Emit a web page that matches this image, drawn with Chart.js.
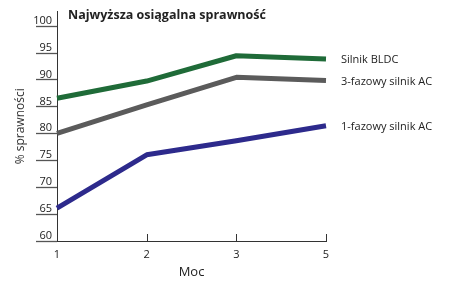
<!DOCTYPE html>
<html>
<head>
<script src="https://cdn.jsdelivr.net/npm/chart.js@4.4.0/dist/chart.umd.min.js"></script>
<style>
  body { margin: 0; background: #ffffff; }
  #wrap { width: 450px; height: 296px; }
</style>
</head>
<body>
<div id="wrap"><canvas id="c"></canvas></div>
<script>
// dane z wykresu
var categories = ['1', '2', '3', '5'];
var bldc = [86.5, 89.7, 94.4, 93.8];
var ac3 = [80.0, 85.3, 90.4, 89.8];
var ac1 = [66.1, 76.0, 78.6, 81.4];
var seriesNames = ['Silnik BLDC', '3-fazowy silnik AC', '1-fazowy silnik AC'];
var seriesColors = ['#1f6b38', '#5b5b5b', '#2d2a8c'];
var chartTitle = 'Najwyższa osiągalna sprawność';

var font = "'Open Sans', 'Noto Sans', sans-serif";

// tytuł, podpisy serii i znaczniki osi
var decor = {
  id: 'decor',
  afterDraw: function(chart) {
    var ctx = chart.ctx;
    var area = chart.chartArea;
    ctx.save();
    ctx.fillStyle = '#222';
    ctx.font = 'bold 12.5px ' + font;
    ctx.textBaseline = 'middle';
    ctx.textAlign = 'left';
    ctx.fillText(chartTitle, area.left + 11, 15);

    ctx.font = '11px ' + font;
    chart.data.datasets.forEach(function(ds, i) {
      var pts = chart.getDatasetMeta(i).data;
      var last = pts[pts.length - 1];
      ctx.fillText(seriesNames[i], last.x + 15, last.y + 1);
    });

    var xs = chart.scales.x;
    ctx.strokeStyle = '#333';
    ctx.lineWidth = 1;
    xs.ticks.forEach(function(t, i) {
      if (i === 0) return;
      var px = Math.round(xs.getPixelForTick(i)) + 0.5;
      ctx.beginPath();
      ctx.moveTo(px, area.bottom - 7);
      ctx.lineTo(px, area.bottom);
      ctx.stroke();
    });

    var ys = chart.scales.y;
    ctx.strokeStyle = '#555';
    ctx.lineWidth = 1.3;
    ys.ticks.forEach(function(t, i) {
      var py = Math.round(ys.getPixelForTick(i)) + 0.5;
      ctx.beginPath();
      ctx.moveTo(area.left - 21, py);
      ctx.lineTo(area.left, py);
      ctx.stroke();
    });
    ctx.restore();
  }
};

var ctx = document.getElementById('c').getContext('2d');
var chart = new Chart(ctx, {
  type: 'line',
  data: {
    labels: categories,
    datasets: [
      { label: seriesNames[0], data: bldc, borderColor: seriesColors[0] },
      { label: seriesNames[1], data: ac3, borderColor: seriesColors[1] },
      { label: seriesNames[2], data: ac1, borderColor: seriesColors[2] }
    ]
  },
  options: {
    responsive: true,
    maintainAspectRatio: false,
    animation: false,
    layout: { padding: { left: 0, top: 10, right: 124, bottom: 0 } },
    elements: {
      line: { borderWidth: 5, tension: 0, borderCapStyle: 'butt', borderJoinStyle: 'round', fill: false },
      point: { radius: 0, hoverRadius: 0 }
    },
    plugins: {
      legend: { display: false },
      tooltip: { enabled: false },
      title: { display: false }
    },
    scales: {
      x: {
        type: 'category',
        offset: false,
        grid: { display: false, drawTicks: false },
        border: { color: '#333', width: 1 },
        ticks: { color: '#222', font: { family: font, size: 11 }, padding: 7, maxRotation: 0 },
        title: { display: true, text: 'Moc', color: '#222', font: { family: font, size: 13 }, padding: { top: 0, bottom: 16 } },
        afterFit: function(s) { s.height = 55; }
      },
      y: {
        min: 60,
        max: 102.6,
        grid: { display: false, drawTicks: false },
        border: { color: '#333', width: 1 },
        ticks: {
          stepSize: 5,
          includeBounds: false,
          color: '#222',
          font: { family: font, size: 11 },
          padding: 5,
          labelOffset: -5
        },
        title: { display: true, text: '% sprawności', color: '#333', font: { family: font, size: 12 }, padding: { top: 13, bottom: 0 } },
        afterFit: function(s) { s.width = 57; }
      }
    }
  },
  plugins: [decor]
});
</script>
</body>
</html>
